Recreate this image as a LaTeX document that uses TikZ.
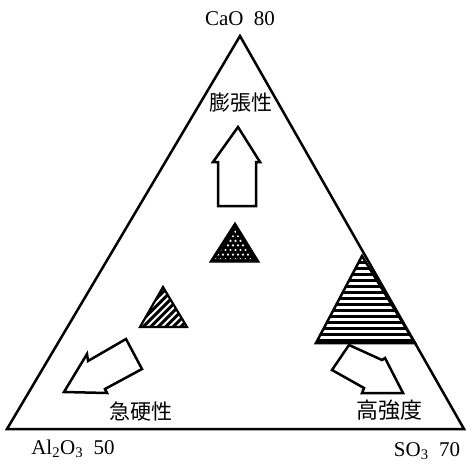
\documentclass[tikz,border=0pt]{standalone}
\usepackage{fontspec}
\setmainfont{Liberation Serif}
\newfontfamily\cjkfont{Noto Sans CJK JP}
\begin{document}
\begin{tikzpicture}[x=1pt,y=-1pt,
  outline/.style={line width=2.5pt,line join=miter},
  fatarrow/.style={line width=2.5pt,line join=miter,fill=white},
  corner/.style={font=\fontsize{21}{21}\selectfont,inner sep=0pt},
  prop/.style={font=\cjkfont\fontsize{21}{21}\selectfont,inner sep=0pt}]
\useasboundingbox (0,0) rectangle (466,464);
% main triangle
\coordinate (A) at (240,36);
\coordinate (L) at (7,429);
\coordinate (R) at (464,429);
\draw[outline] (A) -- (L) -- (R) -- cycle;
% corner labels
\node[corner] (cao) at (240,19) {CaO\hspace{0.5em}80};
\node[corner] (al) at (73,449) {Al\textsubscript{2}O\textsubscript{3}\hspace{0.5em}50};
\node[corner] (so) at (427,451) {SO\textsubscript{3}\hspace{0.5em}70};
% property labels
\node[prop] (exp) at (241,103) {膨張性};
\node[prop] (rap) at (141,412) {急硬性};
\node[prop,font=\cjkfont\fontsize{22}{22}\selectfont] (hs) at (389,410) {高強度};
% up arrow
\draw[fatarrow] (238,127) -- (260,162) -- (256,162) -- (256,206) -- (218,206) -- (218,162) -- (213,162) -- cycle;
% lower-left arrow
\draw[fatarrow] (64,392) -- (87,354) -- (88,361) -- (126,339) -- (142,369) -- (105,389) -- (107,393) -- cycle;
% lower-right arrow
\draw[fatarrow] (349,345) -- (382,360) -- (385,358) -- (403,393) -- (362,393) -- (364,388) -- (332,370) -- cycle;
% dotted triangle
\coordinate (d1) at (235,223);
\coordinate (d2) at (210,262);
\coordinate (d3) at (259,262);
\fill[black] (d1) -- (d2) -- (d3) -- cycle;
\begin{scope}
  \clip (235,230) -- (215,259) -- (254,259) -- cycle;
  \foreach \i in {0,...,8}{
    \foreach \j in {0,...,11}{
      \pgfmathsetmacro{\xx}{208+\j*5+mod(\i,2)*2.5}
      \pgfmathsetmacro{\yy}{227+\i*4.6}
      \fill[white] (\xx,\yy) circle (1.2);
    }
  }
\end{scope}
\draw[line width=1.4pt,line join=miter] (d1) -- (d2) -- (d3) -- cycle;
% hatched small triangle
\coordinate (h1) at (163,287);
\coordinate (h2) at (140,327);
\coordinate (h3) at (187,327);
\begin{scope}
  \clip (h1) -- (h2) -- (h3) -- cycle;
  \foreach \k in {0,...,14}{
    \draw[line width=3pt] (120+\k*7.5,335) -- (170+\k*7.5,285);
  }
\end{scope}
\draw[line width=2.2pt,line join=miter] (h1) -- (h2) -- (h3) -- cycle;
% striped big triangle
\coordinate (s1) at (362,256);
\coordinate (s2) at (316,343);
\coordinate (s3) at (415,343);
\begin{scope}
  \clip (s1) -- (s2) -- (s3) -- cycle;
  \foreach \k in {0,...,14}{
    \draw[line width=3pt] (300,262+\k*6) -- (430,262+\k*6);
  }
\end{scope}
\draw[line width=2.5pt,line join=miter] (s1) -- (s2) -- (s3) -- cycle;
\end{tikzpicture}
\end{document}
